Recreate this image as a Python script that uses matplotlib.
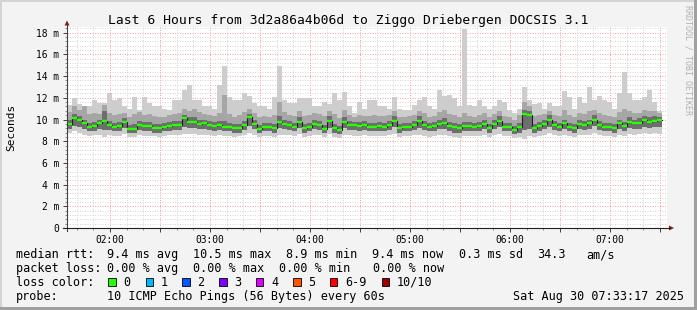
import numpy as np
import matplotlib.pyplot as plt
from matplotlib.patches import Rectangle, Polygon

plt.rcParams['font.family'] = 'DejaVu Sans Mono'

# one sample every 3 minutes, first one at 01:34
t_start = 1 + 34.2 / 60
t_step = 3 / 60

# median rtt (ms)
med = [9.6, 10.1, 10.0, 9.7, 9.3, 9.4, 9.7, 9.9, 9.5, 9.3, 9.4, 9.8, 9.1, 9.1, 9.5, 9.4,
       9.4, 9.2, 9.2, 9.3, 9.4, 9.5, 9.5, 10.1, 9.8, 9.8, 9.6, 9.7, 9.5, 9.4, 9.5, 9.3,
       9.3, 9.2, 9.2, 9.5, 10.2, 9.6, 9.1, 9.3, 9.3, 9.2, 9.8, 9.6, 9.5, 9.3, 9.8, 9.2,
       9.3, 9.6, 9.5, 9.1, 9.9, 9.2, 9.0, 9.8, 9.5, 9.5, 9.4, 9.5, 9.3, 9.3, 9.4, 9.3,
       9.5, 9.9, 9.2, 9.3, 9.3, 9.5, 9.9, 9.5, 9.3, 9.4, 9.6, 9.7, 9.4, 9.3, 9.2, 9.4,
       9.4, 9.3, 9.4, 9.6, 9.2, 9.6, 9.9, 9.3, 9.3, 9.0, 9.3, 10.5, 10.4, 9.2, 9.4, 9.6,
       10.0, 9.5, 9.35, 9.65, 9.35, 9.2, 9.6, 9.5, 9.65, 10.0, 9.5, 9.35, 9.3, 9.2, 9.65, 9.4,
       9.8, 9.65, 9.7, 9.95, 9.8, 9.9, 9.95]
# slowest ping
hi = [11.3, 12.0, 11.4, 11.1, 11.2, 11.8, 11.5, 11.5, 12.4, 11.8, 12.0, 11.2, 11.0, 12.1, 10.9, 12.1,
      11.5, 11.2, 11.2, 11.0, 10.9, 11.8, 11.8, 12.7, 13.2, 11.8, 11.8, 11.2, 11.2, 11.0, 13.2, 14.9,
      12.1, 11.8, 11.8, 12.4, 12.2, 11.5, 11.2, 11.2, 11.0, 12.1, 14.9, 11.8, 11.5, 11.5, 12.0, 12.0,
      12.0, 11.2, 11.2, 11.6, 11.4, 12.4, 11.8, 12.5, 11.2, 10.6, 11.6, 11.0, 11.8, 11.8, 11.2, 11.2,
      11.0, 12.1, 11.0, 10.9, 10.9, 11.3, 11.8, 12.1, 11.2, 11.0, 12.7, 12.2, 12.3, 12.0, 11.2, 18.3,
      11.3, 11.2, 11.8, 11.2, 11.0, 11.2, 11.8, 11.6, 10.9, 10.6, 11.0, 13.0, 11.8, 11.4, 11.5, 11.0,
      11.5, 11.2, 11.2, 12.6, 12.1, 11.0, 12.1, 11.5, 13.0, 11.8, 12.2, 11.8, 11.6, 11.0, 12.4, 14.4,
      12.4, 11.8, 11.8, 12.1, 12.7, 11.6, 10.8]
# 9th ping
mhi = [10.7, 11.2, 10.9, 11.2, 10.5, 10.6, 10.5, 11.3, 10.6, 10.4, 10.5, 10.6, 10.2, 10.5, 10.7, 10.4,
       10.5, 10.3, 10.2, 10.2, 10.4, 10.5, 10.6, 11.0, 10.8, 11.0, 10.7, 10.5, 10.4, 10.3, 10.6, 12.3,
       10.5, 10.2, 10.4, 10.7, 11.0, 10.6, 10.2, 10.3, 10.2, 10.4, 11.6, 10.7, 10.4, 10.3, 10.8, 10.3,
       10.4, 10.6, 10.5, 10.3, 10.8, 10.5, 10.1, 10.9, 10.4, 10.2, 10.4, 10.3, 10.3, 10.4, 10.3, 10.3,
       10.4, 10.8, 10.2, 10.2, 10.3, 10.4, 10.8, 10.6, 10.2, 10.3, 10.7, 10.9, 10.5, 10.4, 10.2, 10.6,
       10.3, 10.2, 10.4, 10.6, 10.2, 10.5, 10.8, 10.3, 10.2, 10.0, 10.4, 11.6, 11.2, 10.3, 10.4, 10.5,
       10.8, 10.4, 10.3, 10.9, 10.4, 10.2, 10.6, 10.5, 10.8, 10.9, 10.6, 10.4, 10.3, 10.2, 10.7, 11.0,
       10.8, 10.6, 10.6, 10.9, 10.8, 10.8, 10.6]
# 7th ping
dhi = [10.0, 10.5, 10.3, 10.0, 9.7, 9.8, 10.0, 10.8, 9.9, 9.7, 9.8, 10.1, 9.5, 9.6, 9.9, 9.8,
       9.8, 9.6, 9.6, 9.7, 9.8, 9.9, 9.9, 10.4, 10.2, 10.2, 10.0, 10.0, 9.9, 9.8, 9.9, 9.9,
       9.7, 9.6, 9.6, 9.9, 10.5, 10.0, 9.5, 9.7, 9.7, 9.6, 10.3, 10.0, 9.9, 9.7, 10.2, 9.6,
       9.7, 10.0, 9.9, 9.5, 10.3, 9.6, 9.4, 10.2, 9.9, 9.8, 9.8, 9.9, 9.7, 9.7, 9.8, 9.7,
       9.9, 10.3, 9.6, 9.7, 9.7, 9.9, 10.3, 9.9, 9.7, 9.8, 10.0, 10.1, 9.8, 9.7, 9.6, 9.8,
       9.8, 9.7, 9.8, 10.0, 9.6, 10.0, 10.3, 9.7, 9.7, 9.4, 9.7, 10.9, 10.8, 9.6, 9.8, 10.0,
       10.4, 9.9, 9.7, 10.0, 9.7, 9.6, 10.0, 9.9, 10.0, 10.4, 9.9, 9.7, 9.7, 9.6, 10.0, 9.8,
       10.2, 10.0, 10.1, 10.3, 10.2, 10.3, 10.2]
# 2nd ping
dlo = [9.1, 9.4, 9.3, 9.1, 8.9, 8.9, 9.1, 9.0, 9.0, 8.9, 8.9, 9.2, 8.8, 8.8, 9.0, 8.9,
       8.9, 8.8, 8.8, 8.9, 8.9, 9.0, 9.0, 9.3, 9.2, 9.2, 9.1, 9.1, 9.0, 8.9, 9.0, 8.9,
       8.9, 8.8, 8.8, 9.0, 9.4, 9.1, 8.8, 8.9, 8.9, 8.8, 9.2, 9.1, 9.0, 8.9, 9.2, 8.8,
       8.9, 9.1, 9.0, 8.8, 9.2, 8.8, 8.7, 9.2, 9.0, 9.0, 8.9, 9.0, 8.9, 8.9, 8.9, 8.9,
       9.0, 9.3, 8.8, 8.9, 8.9, 9.0, 9.2, 9.0, 8.9, 8.9, 9.1, 9.1, 8.9, 8.8, 8.8, 8.9,
       8.9, 8.9, 8.9, 9.1, 8.8, 9.1, 9.3, 8.9, 8.9, 8.7, 8.8, 9.0, 9.1, 8.8, 8.9, 9.1,
       9.3, 9.0, 8.9, 9.1, 8.9, 8.8, 9.1, 9.0, 9.1, 9.4, 9.0, 8.9, 8.9, 8.8, 9.1, 8.9,
       9.2, 9.1, 9.1, 9.3, 9.2, 9.3, 9.3]
# fastest ping
lo = [8.8, 8.9, 8.8, 8.6, 8.5, 8.6, 8.6, 8.4, 8.6, 8.5, 8.5, 8.7, 8.4, 8.4, 8.6, 8.5,
      8.5, 8.5, 8.4, 8.5, 8.6, 8.6, 8.6, 8.7, 8.7, 8.7, 8.6, 8.6, 8.6, 8.5, 8.6, 8.5,
      8.5, 8.4, 8.5, 8.6, 8.8, 8.6, 8.4, 8.5, 8.5, 8.4, 8.6, 8.6, 8.6, 8.5, 8.7, 8.4,
      8.5, 8.6, 8.6, 8.4, 8.7, 8.4, 8.3, 8.6, 8.6, 8.5, 8.5, 8.6, 8.5, 8.5, 8.5, 8.5,
      8.6, 8.7, 8.4, 8.5, 8.5, 8.6, 8.6, 8.5, 8.4, 8.5, 8.6, 8.6, 8.5, 8.4, 8.3, 8.5,
      8.5, 8.5, 8.5, 8.6, 8.4, 8.6, 8.7, 8.5, 8.5, 8.3, 8.4, 8.2, 8.5, 8.4, 8.5, 8.6,
      8.8, 8.6, 8.5, 8.6, 8.5, 8.4, 8.6, 8.6, 8.6, 8.8, 8.6, 8.5, 8.5, 8.4, 8.6, 8.5,
      8.7, 8.6, 8.7, 8.8, 8.7, 8.8, 8.7]

hour_labels = ['02:00', '03:00', '04:00', '05:00', '06:00', '07:00']
title = 'Last 6 Hours from 3d2a86a4b06d to Ziggo Driebergen DOCSIS 3.1'
rtt_stats = ['9.4 ms avg', '10.5 ms max', '8.9 ms min', '9.4 ms now', '0.3 ms sd', '34.3', 'am/s']
loss_stats = ['0.00 % avg', '0.00 % max', '0.00 % min', '0.00 % now']
loss_labels = ['0', '1', '2', '3', '4', '5', '6-9', '10/10']
loss_colors = ['#26ff00', '#00b8ff', '#0059ff', '#7e00ff', '#dd00ff', '#ff5500', '#ff0000', '#a10000']
probe_text = '10 ICMP Echo Pings (56 Bytes) every 60s'
stamp = 'Sat Aug 30 07:33:17 2025'

W, H = 697, 310
fig = plt.figure(figsize=(W / 100, H / 100), dpi=100)
fig.patch.set_facecolor('#f3f3f3')

ax = fig.add_axes([67 / W, 1 - 228 / H, 600 / W, 201 / H])
ax.set_xlim(t_start, t_start + 6)
ax.set_ylim(0, 201 / 10.85)
for s in ax.spines.values():
    s.set_visible(False)

# grid, dotted like rrdtool
minor_y = [v for v in np.arange(0.4, 18.6, 0.4) if abs(v / 2 - round(v / 2)) > 1e-6]
major_y = np.arange(2, 19, 2)
all_x = np.arange(1 + 40 / 60, t_start + 6, 1 / 6)
major_x = [v for v in all_x if abs(v * 2 - round(v * 2)) < 1e-6]
minor_x = [v for v in all_x if abs(v * 2 - round(v * 2)) > 1e-6]
gkw = dict(lw=0.72, ls=(0, (1, 1.5)), zorder=1)
for v in minor_y:
    ax.axhline(v, color='#d6d6d6', **gkw)
for v in minor_x:
    ax.axvline(v, color='#d6d6d6', **gkw)
for v in major_y:
    ax.axhline(v, color='#f5a5a5', **gkw)
for v in major_x:
    ax.axvline(v, color='#f5a5a5', **gkw)

# smoke + median
n = len(med)
x = t_start + t_step * np.arange(n + 1)
def ext(a):
    return np.append(a, a[-1])
ax.fill_between(x, ext(lo), ext(hi), step='post', color='#cdcdcd', lw=0, zorder=2)
ax.fill_between(x, ext(dlo), ext(mhi), step='post', color='#a6a6a6', lw=0, zorder=2)
ax.fill_between(x, ext(dlo), ext(dhi), step='post', color='#6e6e6e', lw=0, zorder=2)
ax.step(x, ext(med), where='post', color='#202020', lw=0.8, zorder=3)
ax.hlines(med, x[:-1], x[1:], color=loss_colors[0], lw=1.7, zorder=4)

# ticks
ax.set_yticks(np.arange(0, 19, 2), ['0'] + ['%d m' % v for v in range(2, 19, 2)])
ax.set_yticks(minor_y, minor=True)
ax.set_xticks(major_x, [hour_labels[int(v) - 2] if abs(v - round(v)) < 1e-6 else '' for v in major_x])
ax.set_xticks(minor_x, minor=True)
ax.tick_params(which='major', length=2.6, width=0.7, color='#404040', labelsize=6.9)
ax.tick_params(which='minor', length=1.4, width=0.7, color='#909090')
ax.tick_params(axis='y', which='major', pad=2.9)
ax.tick_params(axis='x', which='major', pad=2.2)

# overlay in pixel coordinates
bg = fig.add_axes([0, 0, 1, 1])
bg.set_xlim(0, W)
bg.set_ylim(H, 0)
bg.axis('off')
bg.set_zorder(3)

bg.add_patch(Rectangle((0, 0), W, 2, color='#d4d4d4', lw=0))
bg.add_patch(Rectangle((0, 0), 2, H, color='#d4d4d4', lw=0))
bg.add_patch(Rectangle((0, H - 3), W, 3, color='#a0a0a0', lw=0))
bg.add_patch(Rectangle((W - 3, 0), 3, H, color='#a0a0a0', lw=0))

bg.plot([67, 67], [231, 24], color='#404040', lw=0.8)
bg.plot([63, 670], [228, 228], color='#202020', lw=0.8)
bg.add_patch(Polygon([(64.5, 25.5), (69.5, 25.5), (67, 20.5)], color='#8b1a1a', lw=0))
bg.add_patch(Polygon([(669, 225.5), (669, 230.5), (674, 228)], color='#8b1a1a', lw=0))

bg.text(348, 24, title, ha='center', va='baseline', fontsize=9.4)
bg.text(11, 127, 'Seconds', rotation=90, ha='center', va='center', fontsize=8)
bg.text(688, 5, 'RRDTOOL / TOBI OETIKER', rotation=270, ha='center', va='top',
        fontsize=6, color='#b0b0b0')

fs = 8.5
rows = [258.3, 272.1, 285.9, 299.7]
bg.text(16, rows[0], 'median rtt:', va='baseline', fontsize=fs)
for px, s in zip([107.3, 193.3, 286, 372.3, 459, 537.3, 586.7], rtt_stats):
    bg.text(px, rows[0], s, va='baseline', fontsize=fs)
bg.text(16, rows[1], 'packet loss:', va='baseline', fontsize=fs)
for px, s in zip([107.3, 193.3, 279.3, 373.3], loss_stats):
    bg.text(px, rows[1], s, va='baseline', fontsize=fs)
bg.text(16, rows[2], 'loss color:', va='baseline', fontsize=fs)
box_x = [108.3, 145.7, 182.3, 219.3, 256, 293.3, 330, 381.7]
for bx, lab, c in zip(box_x, loss_labels, loss_colors):
    bg.add_patch(Rectangle((bx, 277.9), 7.4, 7.6, facecolor=c, edgecolor='black', lw=0.6))
    bg.text(bx + 15, rows[2], lab, va='baseline', fontsize=fs)
bg.text(16, rows[3], 'probe:', va='baseline', fontsize=fs)
bg.text(107.3, rows[3], probe_text, va='baseline', fontsize=fs)
bg.text(513.3, rows[3], stamp, va='baseline', fontsize=fs)

fig.savefig('out.png', dpi=100, facecolor=fig.get_facecolor())
